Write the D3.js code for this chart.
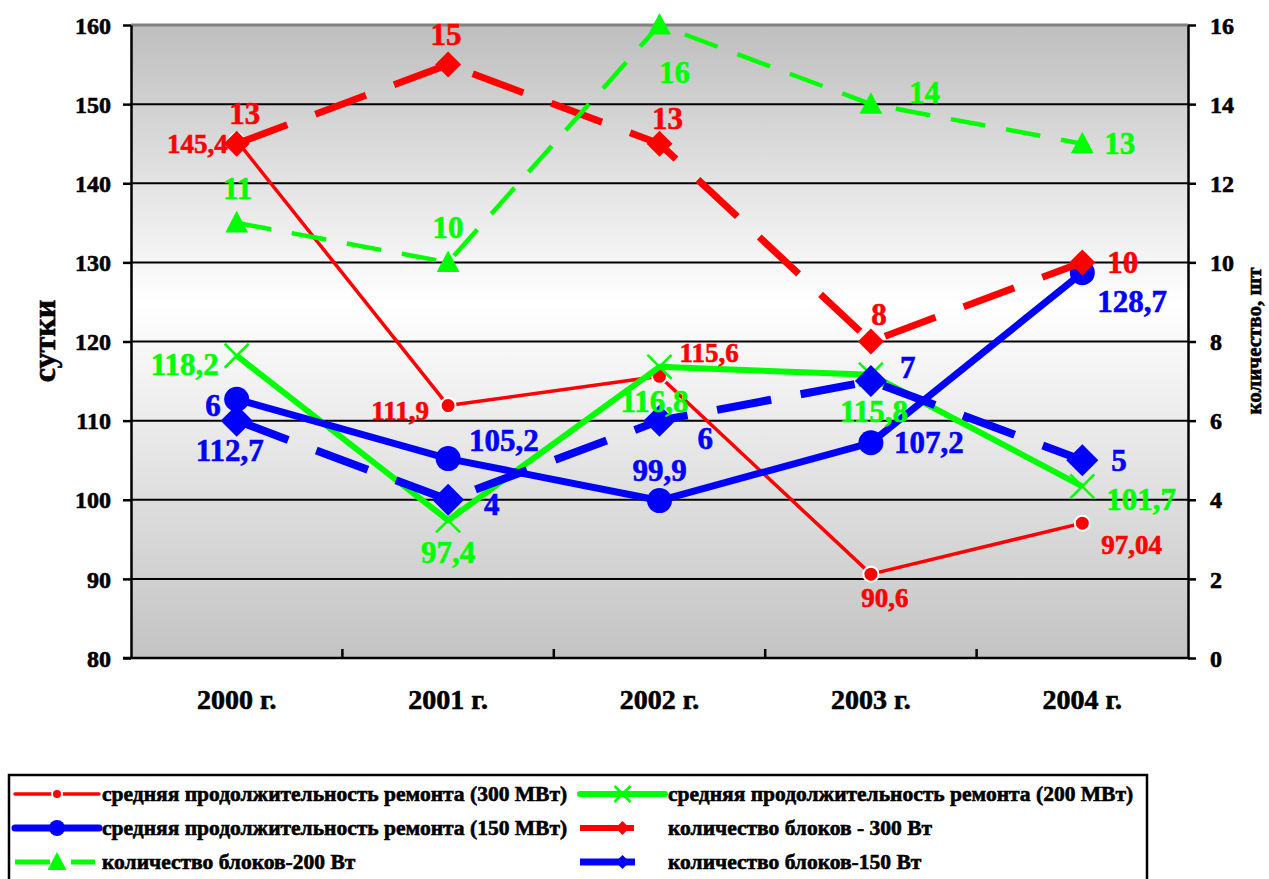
<!DOCTYPE html>
<html>
<head>
<meta charset="utf-8">
<script src="https://cdn.jsdelivr.net/npm/d3@7"></script>
<style>
  body { margin: 0; background: #fff; }
</style>
</head>
<body>
<svg id="chart" width="1269" height="879"></svg>
<script>
// Years on the category axis
const years = ["2000 г.", "2001 г.", "2002 г.", "2003 г.", "2004 г."];

// Average repair duration, days (left axis)
const dur300 = [145.4, 111.9, 115.6, 90.6, 97.04];
const dur200 = [118.2, 97.4, 116.8, 115.8, 101.7];
const dur150 = [112.7, 105.2, 99.9, 107.2, 128.7];

// Number of units under repair (right axis)
const cnt300 = [13, 15, 13, 8, 10];
const cnt200 = [11, 10, 16, 14, 13];
const cnt150 = [6, 4, 6, 7, 5];

// Axis ticks
const leftTicks = [80, 90, 100, 110, 120, 130, 140, 150, 160];
const rightTicks = [0, 2, 4, 6, 8, 10, 12, 14, 16];

// Legend captions
const legendNames = [
  "средняя продолжительность ремонта (300 МВт)",
  "средняя продолжительность ремонта (200 МВт)",
  "средняя продолжительность ремонта (150 МВт)",
  "количество блоков - 300 Вт",
  "количество блоков-200 Вт",
  "количество блоков-150 Вт"
];

// Label placement per point: [dx, dy of digit centre, anchor]
const place300 = [[-9, 3, "end"], [-19, 5, "end"], [20, -23, "start"], [14, 24, "middle"], [19, 22, "start"]];
const place200 = [[-18, 9, "end"], [0, 32, "middle"], [-5, 35, "middle"], [3, 37, "middle"], [24, 13, "start"]];
const place150 = [[-7, 51, "middle"], [21, -18, "start"], [0, -30, "middle"], [23, 0, "start"], [15, 29, "start"]];
const placeC300 = [[8, -30, "middle"], [-2, -30, "middle"], [8, -25, "middle"], [8, -27, "middle"], [25, 0, "start"]];
const placeC200 = [[1, -34, "middle"], [0, -35, "middle"], [15, 47, "middle"], [38, -12, "start"], [22, 0, "start"]];
const placeC150 = [[-16, -15, "end"], [36, 5, "start"], [38, 18, "start"], [29, -14, "start"], [29, 0, "start"]];

const RED = "#ff0000", GREEN = "#00ff00", BLUE = "#0000ff";
const FONT = "'Liberation Serif', 'Times New Roman', 'DejaVu Serif', serif";

const svg = d3.select("#chart");
const plot = { left: 131, right: 1188, top: 25, bottom: 658 };

const x = d3.scaleBand().domain(years).range([plot.left, plot.right]);
const cx = i => x(years[i]) + x.bandwidth() / 2;
const yL = d3.scaleLinear().domain([80, 160]).range([plot.bottom, plot.top]);
const yR = d3.scaleLinear().domain([0, 16]).range([plot.bottom, plot.top]);

// Heavy bold serif text: a thin outline in the fill colour thickens the glyphs
const serif = (sel, color = "#000") => sel
  .style("font-family", FONT).style("font-weight", "bold")
  .attr("fill", color).attr("stroke", color).attr("stroke-width", 0.6);

// Plot background: grey - white - grey vertical gradient
const defs = svg.append("defs");
const grad = defs.append("linearGradient").attr("id", "bg")
  .attr("x1", 0).attr("y1", 0).attr("x2", 0).attr("y2", 1);
grad.append("stop").attr("offset", "0").attr("stop-color", "#bebebe");
grad.append("stop").attr("offset", "0.44").attr("stop-color", "#ffffff");
grad.append("stop").attr("offset", "1").attr("stop-color", "#c3c3c3");

svg.append("rect")
  .attr("x", plot.left).attr("y", plot.top)
  .attr("width", plot.right - plot.left).attr("height", plot.bottom - plot.top)
  .attr("fill", "url(#bg)");

// Horizontal gridlines
svg.append("g").selectAll("line")
  .data(leftTicks.filter(v => v > 80 && v < 160))
  .join("line")
  .attr("x1", plot.left).attr("x2", plot.right)
  .attr("y1", d => yL(d)).attr("y2", d => yL(d))
  .attr("stroke", "#000").attr("stroke-width", 2);

// Top edge of the plot area
svg.append("line")
  .attr("x1", plot.left).attr("x2", plot.right)
  .attr("y1", plot.top).attr("y2", plot.top)
  .attr("stroke", "#808080").attr("stroke-width", 3);

// Left axis
const gL = svg.append("g").attr("transform", `translate(${plot.left},0)`)
  .call(d3.axisLeft(yL).tickValues(leftTicks).tickSize(8).tickSizeOuter(0).tickPadding(12));
gL.select(".domain").attr("stroke", "#000").attr("stroke-width", 2.5);
gL.selectAll(".tick line").attr("stroke", "#000").attr("stroke-width", 2.5);
gL.selectAll(".tick text").attr("font-size", 24).attr("dy", "0.34em").call(serif);

// Right axis
const gR = svg.append("g").attr("transform", `translate(${plot.right},0)`)
  .call(d3.axisRight(yR).tickValues(rightTicks).tickSize(8).tickSizeOuter(0).tickPadding(14));
gR.select(".domain").attr("stroke", "#000").attr("stroke-width", 2.5);
gR.selectAll(".tick line").attr("stroke", "#000").attr("stroke-width", 2.5);
gR.selectAll(".tick text").attr("font-size", 24).attr("dy", "0.34em").call(serif);

// Category axis: baseline, boundary ticks pointing into the plot, year labels
svg.append("line")
  .attr("x1", plot.left - 8).attr("x2", plot.right)
  .attr("y1", plot.bottom).attr("y2", plot.bottom)
  .attr("stroke", "#000").attr("stroke-width", 2.5);
svg.append("g").selectAll("line")
  .data(years.slice(1))
  .join("line")
  .attr("x1", d => x(d)).attr("x2", d => x(d))
  .attr("y1", plot.bottom).attr("y2", plot.bottom - 9)
  .attr("stroke", "#000").attr("stroke-width", 2.5);
const gB = svg.append("g").attr("transform", `translate(0,${plot.bottom})`)
  .call(d3.axisBottom(x).tickSize(0).tickPadding(31));
gB.select(".domain").remove();
gB.selectAll(".tick text").attr("font-size", 28).call(serif);

// Axis titles
svg.append("text")
  .attr("transform", "translate(55,341) rotate(-90)")
  .attr("text-anchor", "middle").attr("font-size", 32)
  .call(serif).text("сутки");
svg.append("text")
  .attr("transform", "translate(1261,341) rotate(-90)")
  .attr("text-anchor", "middle").attr("font-size", 21)
  .call(serif).text("количество, шт");

// Marker shapes
function marker(g, type, size, color) {
  if (type === "circle") {
    g.append("circle").attr("r", size).attr("fill", color)
      .attr("stroke", color === RED ? "#fff" : color).attr("stroke-width", color === RED ? 2 : 0);
  } else if (type === "x") {
    g.append("path").attr("d", `M${-size},${-size}L${size},${size}M${-size},${size}L${size},${-size}`)
      .attr("stroke", color).attr("stroke-width", 2.5).attr("fill", "none");
  } else if (type === "diamond") {
    g.append("path").attr("d", `M0,${-size}L${size},0L0,${size}L${-size},0Z`).attr("fill", color);
  } else if (type === "triangle") {
    g.append("path").attr("d", `M0,${-size}L${size * 0.95},${size * 0.8}L${-size * 0.95},${size * 0.8}Z`).attr("fill", color);
  }
}

const series = [
  { values: dur300, y: yL, color: RED,   width: 3.5, dash: null,    mark: "circle",   size: 7.5, lsize: 5, place: place300,  font: 27 },
  { values: dur200, y: yL, color: GREEN, width: 6,   dash: null,    mark: "x",        size: 12, lsize: 8,  place: place200,  font: 31 },
  { values: dur150, y: yL, color: BLUE,  width: 7,   dash: null,    mark: "circle",   size: 12.5, lsize: 8, place: place150, font: 31 },
  { values: cnt300, y: yR, color: RED,   width: 7,   dash: "54,30", mark: "diamond",  size: 13, lsize: 7,  place: placeC300, font: 31 },
  { values: cnt200, y: yR, color: GREEN, width: 4.5, dash: "35,21", mark: "triangle", size: 12, lsize: 10, place: placeC200, font: 31 },
  { values: cnt150, y: yR, color: BLUE,  width: 8,   dash: "55,30", mark: "diamond",  size: 16, lsize: 7,  place: placeC150, font: 31 }
];
series.forEach((s, k) => s.name = legendNames[k]);

// Lines and markers
series.forEach(s => {
  const line = d3.line().x((d, i) => cx(i)).y(d => s.y(d));
  svg.append("path")
    .attr("d", line(s.values))
    .attr("fill", "none")
    .attr("stroke", s.color)
    .attr("stroke-width", s.width)
    .attr("stroke-linejoin", "round")
    .attr("stroke-dasharray", s.dash);
  s.values.forEach((v, i) => {
    const g = svg.append("g").attr("transform", `translate(${cx(i)},${s.y(v)})`);
    marker(g, s.mark, s.size, s.color);
  });
});

// Value labels
const fmt = v => String(v).replace(".", ",");
series.forEach(s => {
  svg.append("g").selectAll("text")
    .data(s.values)
    .join("text")
    .attr("x", (d, i) => cx(i) + s.place[i][0])
    .attr("y", (d, i) => s.y(d) + s.place[i][1] + 0.34 * s.font)
    .attr("text-anchor", (d, i) => s.place[i][2])
    .attr("font-size", s.font)
    .call(serif, s.color)
    .text(fmt);
});

// Legend
const legend = svg.append("g");
legend.append("rect")
  .attr("x", 9).attr("y", 775).attr("width", 1138).attr("height", 120)
  .attr("fill", "#fff").attr("stroke", "#000").attr("stroke-width", 2.5);

const LEGEND_FONT = 21.5;
const cols = [{ x0: 15, x1: 99, tx: 102 }, { x0: 580, x1: 665, tx: 668 }];
const rows = [794, 828, 862];
series.forEach((s, k) => {
  const c = cols[k % 2], r = rows[Math.floor(k / 2)];
  legend.append("line")
    .attr("x1", c.x0).attr("x2", s.dash ? c.x1 - 4 : c.x1).attr("y1", r).attr("y2", r)
    .attr("stroke", s.color)
    .attr("stroke-width", s.dash ? Math.max(s.width - 1, 5) : s.width)
    .attr("stroke-linecap", s.dash ? "butt" : "round")
    .attr("stroke-dasharray", s.dash);
  const g = legend.append("g").attr("transform", `translate(${(c.x0 + c.x1) / 2},${r})`);
  marker(g, s.mark, s.lsize, s.color);
  legend.append("text")
    .attr("x", c.tx).attr("y", r + 0.34 * LEGEND_FONT)
    .attr("font-size", LEGEND_FONT)
    .call(serif)
    .text(s.name);
});
</script>
</body>
</html>
